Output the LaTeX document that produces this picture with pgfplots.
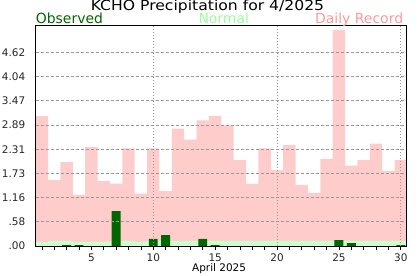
\documentclass[border=0pt]{standalone}
\usepackage{pgfplots}
\pgfplotsset{compat=1.18}
\usepackage{pgfplotstable}
\usepackage{graphicx}
\usepackage{fontspec}
\setmainfont{DejaVu Sans}
\definecolor{rec}{HTML}{FFCCCC}
\definecolor{nrm}{HTML}{CCFFCC}
\definecolor{obs}{HTML}{006600}
\definecolor{nrmtxt}{HTML}{99FF99}
\definecolor{rectxt}{HTML}{FF9999}
\definecolor{gridgray}{HTML}{999999}

\pgfplotstableread{
day val
1 3.10
2 1.57
3 2.00
4 1.22
5 2.36
6 1.55
7 1.49
8 2.33
9 1.25
10 2.33
11 1.31
12 2.80
13 2.54
14 3.00
15 3.10
16 2.88
17 2.05
18 1.48
19 2.33
20 1.81
21 2.41
22 1.46
23 1.27
24 2.08
25 5.15
26 1.92
27 2.05
28 2.44
29 1.79
30 2.05
}\recordtbl

\pgfplotstableread{
day val
1 0.09
2 0.12
3 0.12
4 0.10
5 0.10
6 0.10
7 0.11
8 0.12
9 0.10
10 0.12
11 0.12
12 0.12
13 0.12
14 0.12
15 0.12
16 0.12
17 0.12
18 0.12
19 0.12
20 0.13
21 0.13
22 0.12
23 0.12
24 0.12
25 0.12
26 0.12
27 0.12
28 0.12
29 0.12
30 0.12
}\normaltbl

\pgfplotstableread{
day val
3 0.02
4 0.02
7 0.83
10 0.17
11 0.26
14 0.17
15 0.02
25 0.14
26 0.07
30 0.02
}\obstbl

\begin{document}
\begin{tikzpicture}
\begin{axis}[
  scale only axis,
  width=371.3bp, height=220bp,
  xmin=0.5, xmax=30.5, ymin=0, ymax=5.25,
  axis on top,
  axis line style={line width=1bp, black},
  xtick={5,10,15,20,25,30},
  minor xtick={1,...,30},
  xtick pos=bottom, ytick pos=left,
  x tick style={black, line width=0.7bp},
  tick align=outside,
  major tick length=4bp, minor tick length=4bp,
  y tick style={draw=none},
  ytick={0,0.5775,1.155,1.7325,2.31,2.8875,3.465,4.0425,4.62},
  yticklabels={.00,.58,1.16,1.73,2.31,2.89,3.47,4.04,4.62},
  ymajorgrids,
  major y grid style={gridgray, line width=0.7bp, dash pattern=on 3bp off 2bp},
  extra x ticks={10,20,30},
  extra x tick labels={},
  extra x tick style={grid=major, major tick length=0pt, major grid style={gridgray, line width=0.7bp, dash pattern=on 1bp off 2bp}},
  /pgf/number format/assume math mode=true,
  tick label style={font=\fontsize{10.5}{12}\selectfont, text=black!85},
  yticklabel style={xshift=-3bp},
  xlabel={April 2025},
  xlabel style={font=\fontsize{10.5}{12}\selectfont, at={(axis description cs:0.494,0)}, anchor=base, yshift=-25bp, inner sep=0pt},
]
\addplot[ybar, bar width=1, bar shift=0pt, fill=rec, draw=none] table[x=day, y=val] {\recordtbl};
\addplot[ybar, bar width=1, bar shift=0pt, fill=nrm, draw=none] table[x=day, y=val] {\normaltbl};
\addplot[ybar, bar width=0.72, bar shift=0pt, fill=obs, draw=none] table[x=day, y=val] {\obstbl};
\end{axis}
\node[anchor=base, inner sep=0pt, font=\fontsize{14}{16}\selectfont] at (171.8bp,235.3bp) {\scalebox{1.12}[1]{KCHO Precipitation for 4/2025}};
\node[anchor=base west, inner sep=0pt, font=\fontsize{14}{16}\selectfont, text=obs] at (0bp,222bp) {Observed};
\node[anchor=base west, inner sep=0pt, font=\fontsize{14}{16}\selectfont, text=nrmtxt] at (162.6bp,222bp) {Normal};
\node[anchor=base east, inner sep=0pt, font=\fontsize{14}{16}\selectfont, text=rectxt] at (367.6bp,222bp) {Daily Record};
\pgfresetboundingbox
\path[use as bounding box] (-35.7bp,-30bp) rectangle (381.3bp,246bp);
\end{tikzpicture}
\end{document}
